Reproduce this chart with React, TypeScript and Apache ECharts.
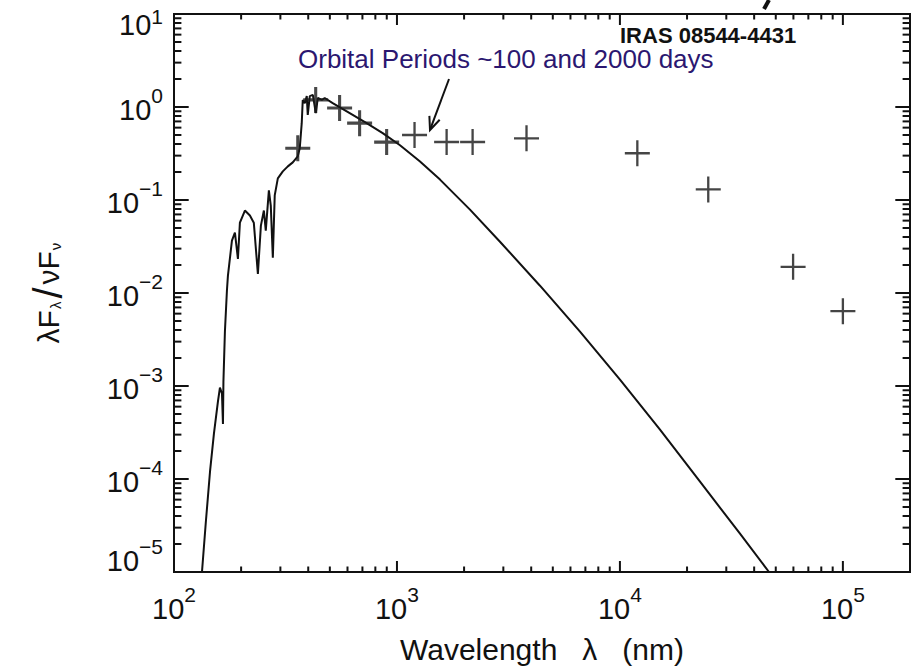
import React, { useEffect, useRef } from "react";
import * as echarts from "echarts";

const X_MIN = 100;
const X_MAX = 200000;
const Y_MIN = 1e-5;
const Y_MAX = 10;

// Photometry (optical, overlapping the model) — wavelength nm, lambda F_lambda normalised
const optWavelength = [359, 432, 553, 680, 899];
const optFlux = [0.36, 1.19, 0.975, 0.67, 0.42];
// Photometry (near/far infrared)
const irWavelength = [1199, 1670, 2184, 3811, 11970, 24900, 59800, 100000];
const irFlux = [0.5, 0.42, 0.42, 0.46, 0.318, 0.13, 0.0191, 0.00638];

// Stellar model spectrum
const modelWavelength = [
  133.5, 138.9, 145, 151, 157.4, 160.7, 164.1, 165.8, 166.6, 169.2, 172.7, 174.5,
  181.9, 187.6, 193.5, 197.5, 208, 219, 228, 237.8, 245.3, 253, 258, 266.4, 271.7,
  277.5, 283, 292.2, 307.6, 324, 341, 359, 366.5, 374, 378, 386, 394, 398, 406.5,
  419.5, 432.5, 441.6, 460, 474, 515, 614, 731, 863, 1032, 1269, 1560, 2126, 2898,
  4380, 6622, 10007, 15128, 22870, 34560, 46630,
];
const modelFlux = [
  1e-5, 3.43e-5, 1.19e-4, 3.06e-4, 6.8e-4, 9.6e-4, 8.3e-4, 3.9e-4, 1.12e-3, 3.88e-3,
  1.05e-2, 1.53e-2, 3.65e-2, 4.45e-2, 2.33e-2, 5.71e-2, 7.7e-2, 6.8e-2, 5.7e-2, 1.6e-2,
  5.3e-2, 7.7e-2, 4.68e-2, 0.127, 0.087, 0.0239, 0.112, 0.171, 0.203, 0.23, 0.254,
  0.295, 0.36, 0.67, 1.19, 1.1, 1.31, 0.82, 1.31, 1.35, 0.86, 1.25, 1.19, 1.25, 1.1,
  0.86, 0.67, 0.524, 0.388, 0.2588, 0.1657, 0.0788, 0.0356, 0.01198, 3.836e-3,
  1.169e-3, 3.388e-4, 9.35e-5, 2.58e-5, 1e-5,
];

// Tick values
const xMajorTicks = [100, 1000, 10000, 100000];
const yMajorTicks = [1e-5, 1e-4, 1e-3, 1e-2, 1e-1, 1, 10];
const minorMultipliers = [2, 3, 4, 5, 6, 7, 8, 9];

const annotationText = "Orbital Periods ~100 and 2000 days";
const objectName = "IRAS 08544-4431";
const xAxisTitle = "Wavelength   λ   (nm)";

const INK = "#111111";
const FONT = "'Liberation Sans', Arial, Helvetica, sans-serif";

function plusPath(t: number) {
  const a = 13;
  return (
    "path://M" + -t + "," + -a + " L" + t + "," + -a + " L" + t + "," + -t + " L" + a + "," + -t +
    " L" + a + "," + t + " L" + t + "," + t + " L" + t + "," + a + " L" + -t + "," + a +
    " L" + -t + "," + t + " L" + -a + "," + t + " L" + -a + "," + -t + " L" + -t + "," + -t + " Z"
  );
}

function expOf(v: number): number | null {
  const l = Math.log10(v);
  const r = Math.round(l);
  if (Math.abs(l - r) > 1e-6) return null;
  return r;
}

function supText(e: number) {
  return e < 0 ? "−" + -e : String(e);
}

export default function App() {
  const ref = useRef<HTMLDivElement>(null);

  useEffect(() => {
    if (!ref.current) return;
    const chart = echarts.init(ref.current, undefined, { renderer: "svg" });

    const tickData: number[][] = [];
    xMajorTicks.forEach((v) => tickData.push([v, Y_MIN, 0]));
    xMajorTicks.forEach((d) =>
      minorMultipliers.forEach((m) => {
        const v = d * m;
        if (v < X_MAX) tickData.push([v, Y_MIN, 1]);
      })
    );
    yMajorTicks.forEach((v) => tickData.push([X_MIN, v, 2]));
    yMajorTicks.forEach((d) =>
      minorMultipliers.forEach((m) => {
        const v = d * m;
        if (v < Y_MAX) tickData.push([X_MIN, v, 3]);
      })
    );

    const tipX = 430, tipY = 130, startX = 449, startY = 79;
    const dx = tipX - startX, dy = tipY - startY;
    const dl = Math.sqrt(dx * dx + dy * dy);
    const ux = dx / dl, uy = dy / dl;
    const bx = tipX - ux * 13, by = tipY - uy * 13;
    const px = -uy * 5.5, py = ux * 5.5;

    const option: any = {
      animation: false,
      backgroundColor: "#ffffff",
      grid: {
        left: 174,
        right: 8,
        top: 14,
        bottom: 96,
        show: true,
        borderColor: INK,
        borderWidth: 2,
        backgroundColor: "transparent",
        containLabel: false,
        outerBoundsMode: "none",
      },
      xAxis: {
        type: "log",
        logBase: 10,
        min: X_MIN,
        max: X_MAX,
        axisLine: { show: false },
        axisTick: { show: false },
        splitLine: { show: false },
        minorTick: { show: false },
        name: xAxisTitle,
        nameLocation: "middle",
        nameGap: 62,
        nameTextStyle: { fontFamily: FONT, fontSize: 30, color: INK, whiteSpace: "pre" },
        axisLabel: {
          show: true,
          showMinLabel: true,
          showMaxLabel: true,
          hideOverlap: false,
          margin: 12,
          color: INK,
          formatter: (v: number) => {
            const e = expOf(v);
            if (e === null) return "";
            return "{b|10}{s|" + supText(e) + "}";
          },
          rich: {
            b: { fontFamily: FONT, fontSize: 29, color: INK },
            s: { fontFamily: FONT, fontSize: 21, color: INK, padding: [0, 0, 28, 0] },
          },
        },
      },
      yAxis: {
        type: "log",
        logBase: 10,
        min: Y_MIN,
        max: Y_MAX,
        axisLine: { show: false },
        axisTick: { show: false },
        splitLine: { show: false },
        minorTick: { show: false },
        name: "{a|λF}{sub|λ}{sl|/}{a|νF}{sub|ν}",
        nameLocation: "middle",
        nameRotate: 90,
        nameGap: 106,
        nameTextStyle: {
          color: INK,
          rich: {
            a: { fontFamily: FONT, fontSize: 30, color: INK },
            sub: { fontFamily: FONT, fontSize: 15, color: INK, padding: [14, 0, 0, 1] },
            sl: { fontFamily: FONT, fontSize: 40, color: INK, padding: [0, 3, 0, 3] },
          },
        },
        axisLabel: {
          show: true,
          showMinLabel: true,
          showMaxLabel: true,
          hideOverlap: false,
          margin: 11,
          color: INK,
          formatter: (v: number) => {
            const e = expOf(v);
            if (e === null) return "";
            if (e === 1) return "{bt|10}{st|" + supText(e) + "}";
            if (e === -5) return "{bb|10}{sb|" + supText(e) + "}";
            return "{b|10}{s|" + supText(e) + "}";
          },
          rich: {
            b: { fontFamily: FONT, fontSize: 29, color: INK, padding: [5, 0, 0, 0] },
            s: { fontFamily: FONT, fontSize: 21, color: INK, padding: [0, 0, 23, 0] },
            bt: { fontFamily: FONT, fontSize: 29, color: INK, padding: [22, 0, 0, 0] },
            st: { fontFamily: FONT, fontSize: 21, color: INK, padding: [4, 0, 0, 0] },
            bb: { fontFamily: FONT, fontSize: 29, color: INK, padding: [0, 0, 22, 0] },
            sb: { fontFamily: FONT, fontSize: 21, color: INK, padding: [0, 0, 51, 0] },
          },
        },
      },
      series: [
        {
          name: "ticks",
          type: "custom",
          coordinateSystem: "cartesian2d",
          silent: true,
          clip: false,
          encode: { x: 0, y: 1 },
          data: tickData,
          renderItem: (params: any, api: any) => {
            const cs = params.coordSys;
            const kind = api.value(2);
            const style = { stroke: INK, lineWidth: 2 };
            if (kind < 2) {
              const x = api.coord([api.value(0), Y_MIN])[0];
              const len = kind === 0 ? 11 : 5.5;
              return {
                type: "group",
                children: [
                  { type: "line", shape: { x1: x, y1: cs.y + cs.height, x2: x, y2: cs.y + cs.height - len }, style },
                  { type: "line", shape: { x1: x, y1: cs.y, x2: x, y2: cs.y + len }, style },
                ],
              };
            }
            const y = api.coord([X_MIN, api.value(1)])[1];
            const len = kind === 2 ? 14.7 : 7.4;
            return {
              type: "group",
              children: [
                { type: "line", shape: { x1: cs.x, y1: y, x2: cs.x + len, y2: y }, style },
                { type: "line", shape: { x1: cs.x + cs.width, y1: y, x2: cs.x + cs.width - len, y2: y }, style },
              ],
            };
          },
          z: 3,
        },
        {
          name: "model",
          type: "line",
          data: modelWavelength.map((w, i) => [w, modelFlux[i]]),
          showSymbol: false,
          symbol: "none",
          smooth: false,
          lineStyle: { color: INK, width: 2 },
          clip: true,
          z: 2,
        },
        {
          name: "optical",
          type: "scatter",
          data: optWavelength.map((w, i) => [w, optFlux[i]]),
          symbol: plusPath(1.6),
          symbolSize: [25, 26],
          itemStyle: { color: "#1a1a1a" },
          z: 4,
        },
        {
          name: "infrared",
          type: "scatter",
          data: irWavelength.map((w, i) => [w, irFlux[i]]),
          symbol: plusPath(1.2),
          symbolSize: [25, 26],
          itemStyle: { color: "#161616" },
          z: 4,
        },
      ],
      graphic: [
        {
          type: "text",
          left: 298,
          top: 46,
          style: {
            text: annotationText,
            fill: "#2b1770",
            font: "26px " + FONT,
          },
          z: 10,
        },
        {
          type: "line",
          shape: { x1: startX, y1: startY, x2: tipX - ux * 2, y2: tipY - uy * 2 },
          style: { stroke: INK, lineWidth: 2 },
          z: 10,
        },
        {
          type: "polyline",
          shape: {
            points: [
              [bx + px, by + py],
              [tipX, tipY],
              [bx - px, by - py],
            ],
          },
          style: { stroke: INK, lineWidth: 2, fill: null },
          z: 10,
        },
        {
          type: "text",
          left: 620,
          top: 24,
          style: {
            text: objectName,
            fill: INK,
            font: "bold 22px " + FONT,
          },
          z: 10,
        },
        {
          type: "line",
          shape: { x1: 769, y1: 0, x2: 764, y2: 9 },
          style: { stroke: INK, lineWidth: 4 },
          z: 10,
        },
      ],
    };

    chart.setOption(option);
    return () => {
      chart.dispose();
    };
  }, []);

  return (
    <div
      ref={ref}
      style={{ position: "fixed", left: 0, top: 0, width: 918, height: 668, background: "#fff" }}
    />
  );
}
